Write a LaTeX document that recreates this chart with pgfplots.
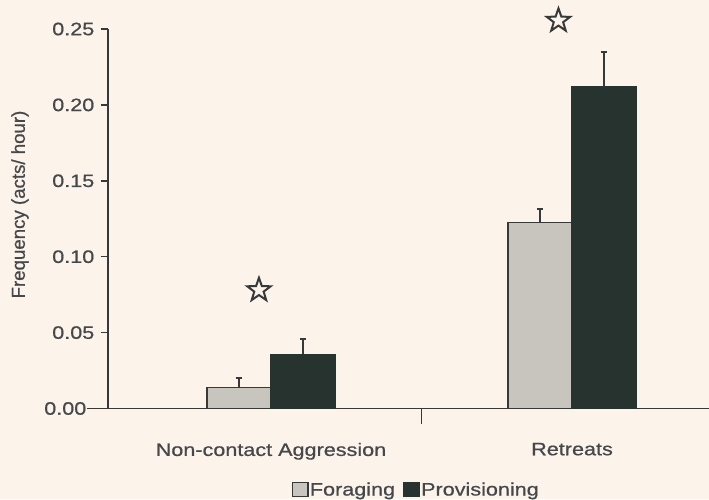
\documentclass[border=0pt]{standalone}
\usepackage{fontspec}
\setmainfont[FakeStretch=1.2, FakeBold=0.7]{Liberation Sans}
\newfontfamily\labfont[FakeBold=0.7]{Liberation Sans}
\usepackage{pgfplots}
\pgfplotsset{compat=1.18}
\usetikzlibrary{shapes.geometric}

\definecolor{bg}{HTML}{FCF3EA}
\definecolor{ink}{HTML}{363937}
\definecolor{txt}{HTML}{45484A}
\definecolor{forag}{HTML}{C8C5BF}
\definecolor{prov}{HTML}{27332F}

\newcommand{\tl}{\fontsize{13.5}{16}\selectfont}

% outlined five-pointed star used to flag significant differences
\pgfdeclareplotmark{ostar}{%
  \node[star, star points=5, star point ratio=2.5, draw=ink, fill=bg,
        line width=1.5pt, minimum size=18.5pt, inner sep=0pt] {};}

\pgfplotsset{
  boxlegend/.style={legend image code/.code={%
      \draw[##1, line width=1pt] (0pt,-5pt) rectangle (11.5pt,5.5pt);}},
}

\begin{document}
\begin{tikzpicture}[font=\tl, text=txt]
\path[use as bounding box, fill=bg] (-81pt,-67.875pt) rectangle (450.75pt,306.375pt);
\begin{axis}[
  at={(0pt,0pt)}, anchor=south west,
  scale only axis, width=450.75pt, height=284.625pt,
  xmin=-0.5415, xmax=1.4551, ymin=0, ymax=0.25,
  clip=false,
  axis lines=left,
  axis line style={-, ink, line width=1.3pt},
  every tick/.style={ink, line width=1.1pt},
  tick align=outside,
  major tick length=5.25pt,
  tick label style={font=\tl},
  ytick={0.05,0.1,0.15,0.2,0.25},
  yticklabels={0.05,0.10,0.15,0.20,0.25},
  yticklabel style={xshift=-1.5pt},
  extra y ticks={0},
  extra y tick labels={0.00},
  extra y tick style={major tick length=15.75pt,
    yticklabel style={xshift=4.5pt}},
  xtick={0,1},
  xticklabels={Non-contact Aggression, Retreats},
  xtick style={draw=none},
  xticklabel style={yshift=-17pt},
  extra x ticks={0.5},
  extra x tick labels={},
  extra x tick style={major tick length=11.25pt, xtick style={draw=ink}},
  ylabel={Frequency (acts/ hour)},
  ylabel style={at={(axis description cs:0,0.5375)}, anchor=center,
    yshift=66pt, font=\labfont\fontsize{14}{16}\selectfont},
  legend style={at={(axis description cs:0.5125,-0.2148)}, anchor=center,
    draw=none, fill=none, legend columns=2, font=\tl,
    nodes={inner xsep=1pt, inner ysep=1pt},
    /tikz/every even column/.append style={column sep=5pt}},
]
\addplot[ybar, bar width=48pt, bar shift=-24pt, fill=forag, draw=ink,
  line width=1.1pt, boxlegend,
  error bars/.cd, y dir=plus, y explicit, error mark=|,
  error bar style={ink, line width=1.2pt, xshift=-24pt},
  error mark options={ink, line width=1.3pt, mark size=2.5pt}]
  table[x=x, y=y, y error=e] {
x y e
0 0.0137 0.0062
1 0.1224 0.0088
};
\addlegendentry{Foraging}
\addplot[ybar, bar width=48pt, bar shift=24pt, fill=prov, draw=prov,
  line width=1pt, boxlegend,
  error bars/.cd, y dir=plus, y explicit, error mark=|,
  error bar style={ink, line width=1.2pt, xshift=24pt},
  error mark options={ink, line width=1.3pt, mark size=2.5pt}]
  table[x=x, y=y, y error=e] {
x y e
0 0.0357 0.0101
1 0.2120 0.0230
};
\addlegendentry{Provisioning}
% significance stars
\addplot[only marks, mark=ostar, forget plot] coordinates {
  (-0.04,0.078) (0.955,0.2555)};
\end{axis}
\end{tikzpicture}
\end{document}
